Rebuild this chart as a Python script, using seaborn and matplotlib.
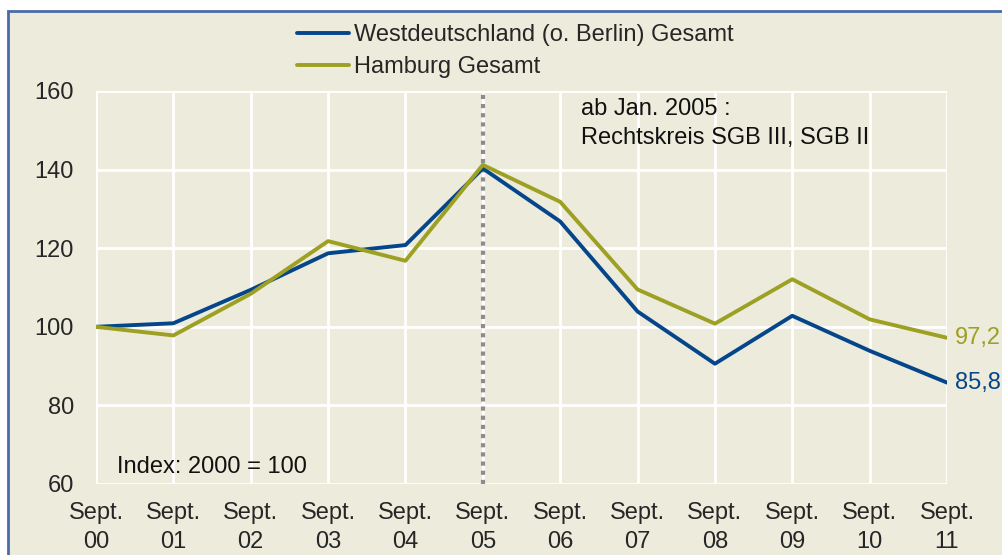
import matplotlib
matplotlib.use("Agg")
import matplotlib.pyplot as plt
import seaborn as sns
import pandas as pd
from matplotlib.patches import Rectangle
from matplotlib.lines import Line2D

years = ["00", "01", "02", "03", "04", "05", "06", "07", "08", "09", "10", "11"]
west = [100, 100.9, 109.4, 118.7, 120.8, 140.3, 126.8, 103.9, 90.6, 102.8, 93.9, 85.8]
hamburg = [100, 97.8, 108.4, 121.8, 116.8, 141.2, 131.8, 109.5, 100.8, 112.1, 101.9, 97.2]
series_names = ["Westdeutschland (o. Berlin) Gesamt", "Hamburg Gesamt"]
end_labels = ["85,8", "97,2"]
tick_labels = ["Sept.\n" + y for y in years]
yticks = [60, 80, 100, 120, 140, 160]

blue = "#05468A"
olive = "#9DA022"
bg = "#EDEBDC"
FS = 17

sns.set_theme(style="white")
plt.rcParams['font.family'] = ['Liberation Sans', 'DejaVu Sans']

df = pd.DataFrame({
    "x": list(range(len(years))) * 2,
    "value": west + hamburg,
    "series": [series_names[0]] * len(years) + [series_names[1]] * len(years),
})

fig = plt.figure(figsize=(10.02, 5.55), dpi=100)
fig.patch.set_facecolor("white")
# beige panel with blue border (cropped at right/bottom)
panel = Rectangle((8 / 1002, -0.05), 1.1, 1 - 11 / 555 + 0.05,
                  transform=fig.transFigure, facecolor=bg,
                  edgecolor="#4A6BAA", linewidth=2, zorder=-10)
fig.add_artist(panel)

ax = fig.add_axes([96 / 1002, 1 - 484 / 555, (947 - 96) / 1002, (484 - 91) / 555])
ax.set_zorder(5)
ax.set_facecolor(bg)

sns.lineplot(data=df, x="x", y="value", hue="series", palette=[blue, olive],
             linewidth=2.8, ax=ax, legend=False, zorder=3)

ax.set_xlim(0, len(years) - 1)
ax.set_ylim(60, 160)
ax.set_yticks(yticks)
ax.set_xticks(range(len(years)))
ax.set_xticklabels(tick_labels, fontsize=FS, linespacing=1.42)
ax.set_yticklabels([str(t) for t in yticks], fontsize=FS)
ax.tick_params(length=0)
ax.tick_params(axis="y", pad=16)
ax.tick_params(axis="x", pad=13)
ax.grid(True, color="white", linewidth=2)
for s in ax.spines.values():
    s.set_visible(False)
ax.set_xlabel("")
ax.set_ylabel("")

# vertical dotted line at Sept. 05
ax.axvline(5, color="#8C8C8C", linestyle=(0, (1, 1.2)), linewidth=3, zorder=2)

# end labels
ax.text(len(years) - 1 + 0.1, west[-1], end_labels[0], color=blue, fontsize=FS,
        va="center", ha="left", clip_on=False)
ax.text(len(years) - 1 + 0.1, hamburg[-1], end_labels[1], color=olive, fontsize=FS,
        va="center", ha="left", clip_on=False)

# annotations
ax.text(6.27, 151.8, "ab Jan. 2005 :\nRechtskreis SGB III, SGB II", fontsize=FS,
        va="center", ha="left", linespacing=1.4, color="#111111")
ax.text(0.27, 64.4, "Index: 2000 = 100", fontsize=FS, va="center", ha="left",
        color="#111111")

# legend
handles = [Line2D([], [], color=blue, linewidth=2.8), Line2D([], [], color=olive, linewidth=2.8)]
fig.legend(handles, series_names, loc="upper left", bbox_to_anchor=(297 / 1002, 1 - 24 / 555),
           frameon=False, fontsize=FS, handlelength=2.2, handletextpad=0.2,
           labelspacing=0.42, borderaxespad=0, borderpad=0)

fig.savefig("out.png", dpi=100, facecolor=fig.get_facecolor())
